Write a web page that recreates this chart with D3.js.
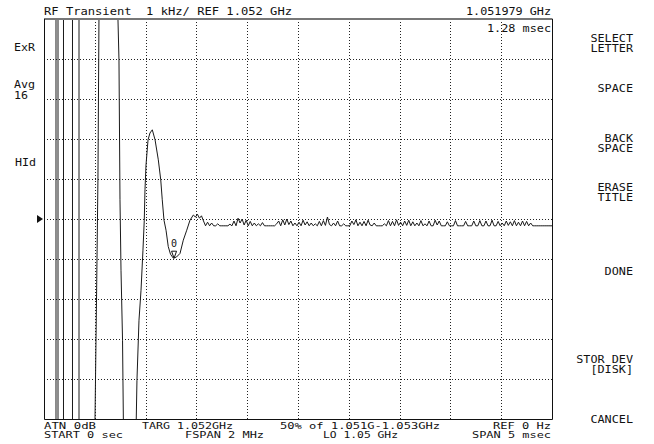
<!doctype html>
<html lang="en">
<head>
    <meta charset="utf-8" />
    <title>RF Transient</title>
    <script src="https://d3js.org/d3.v7.min.js"></script>
    <style>
        body { margin: 0; background: #fff; }
        text { font-family: "DejaVu Sans Mono", "Liberation Mono", monospace; fill: #111; white-space: pre; }
    </style>
</head>
<body>
<div id="screen"></div>
<script>
// time axis (msec) and frequency offset from REF (kHz, 1 kHz/div)
const timeSpan = [0, 5];
const freqSpan = [-5, 5];
const timeTicks = [0.5, 1, 1.5, 2, 2.5, 3, 3.5, 4, 4.5];
const freqTicks = [-4, -3, -2, -1, 0, 1, 2, 3, 4];

// start of the transient: off-scale swings, then the ring-down
const sweepTimes = [0, 0.1181, 0.1181, 0.1378, 0.1378, 0.1919, 0.1919, 0.2805, 0.2805, 0.3445, 0.3445,
    0.495, 0.502, 0.517, 0.531, 0.541, 0.548,
    0.72, 0.728, 0.738, 0.748, 0.758, 0.773, 0.781, 0.79,
    0.90, 0.908, 0.915, 0.935, 0.955, 0.974, 0.987, 0.994, 1.004, 1.024, 1.043, 1.066,
    1.093, 1.125, 1.149, 1.164, 1.181, 1.201, 1.223, 1.245, 1.273, 1.304, 1.339, 1.371, 1.405, 1.437];
const sweepFreqs = [9, 9, -9, -9, 9, 9, -9, -9, 9, 9, -9,
    -9, -5, -2.0, 1.0, 5, 9,
    9, 5, 3.98, 0.48, -1.28, -3.03, -5, -9,
    -9, -5, -4.03, -2.53, -1.78, -0.78, -0.03, 0.73, 1.35, 1.98, 2.15, 2.23,
    1.98, 1.48, 0.98, 0.48, -0.03, -0.28, -0.69, -0.88, -0.98, -0.95, -0.86, -0.53, -0.28, -0.03];

// settled part, sampled every 0.02 msec
const noiseStart = 1.47;
const noiseStep = 0.02;
const noiseFreqs = [0.1, 0.05, 0.12, 0.02, 0.08,
    -0.05, -0.17, -0.08, -0.17, -0.1,
    -0.17, -0.17, -0.12, -0.17, -0.17, -0.17, -0.17, -0.17, -0.13, -0.17,
    -0.05, -0.17, 0.02, -0.1, 0.0, -0.15, -0.03, -0.17, -0.06, -0.17,
    -0.1, -0.17, -0.12, -0.17, -0.09, -0.17, -0.17, -0.17, -0.17, -0.17, -0.17, -0.12,
    -0.05, -0.17, -0.02, -0.15, 0.0, -0.14, -0.05, -0.17, -0.1, -0.17, -0.08, -0.17, -0.03,
    -0.15, -0.07, -0.17, -0.1, -0.17, -0.12, -0.17, -0.06, -0.17, -0.04, -0.16, 0.05, -0.14,
    -0.17, -0.1, -0.17, -0.05, -0.17, -0.17, -0.12, -0.17, -0.17, -0.17, -0.05, -0.14, -0.02, -0.17, -0.08,
    -0.17, -0.06, -0.17, -0.03, -0.15, -0.17, -0.1, -0.17, -0.17, -0.17, -0.17, -0.12, -0.17, -0.04,
    -0.17, -0.06, -0.17, -0.02, -0.16, -0.08,
    -0.17, -0.05, -0.16, -0.03, -0.17, -0.07, -0.17, -0.1, -0.17, -0.04, -0.17, -0.12, -0.17,
    -0.05, -0.17, -0.17, -0.03, -0.15, -0.05, -0.17, -0.17, -0.17, -0.07, -0.17, -0.17,
    -0.17, -0.04, -0.17, -0.17, -0.17, -0.17, -0.06, -0.17, -0.17, -0.17, -0.05, -0.17, -0.17,
    -0.04, -0.17, -0.17, -0.05, -0.17, -0.17, -0.03, -0.17, -0.17, -0.06, -0.17, -0.10,
    -0.17, -0.05, -0.16, -0.07, -0.17, -0.04, -0.17, -0.08, -0.17, -0.05, -0.17, -0.06, -0.17,
    -0.1, -0.17, -0.17, -0.17, -0.17, -0.17, -0.17, -0.17, -0.17, -0.17, -0.17, -0.17, -0.17];

// marker 0
const markerTime = 1.28;
const markerFreq = -0.98;

const softkeys = [["SELECT", "LETTER"], ["SPACE"], ["BACK", "SPACE"], ["ERASE", "TITLE"], ["DONE"], [], ["STOR DEV", "[DISK]"], ["CANCEL"]];

var width = 654,
    height = 444,
    plot = { left: 44, right: 552, top: 19, bottom: 419 };

var svg = d3.select("#screen").append("svg")
    .attr("width", width)
    .attr("height", height);

var xScale = d3.scaleLinear().domain(timeSpan).range([plot.left, plot.right]);
var yScale = d3.scaleLinear().domain(freqSpan).range([plot.bottom, plot.top]);
// rounded copies so the dotted grid sits on whole pixels
var xGrid = xScale.copy().rangeRound([plot.left, plot.right]);
var yGrid = yScale.copy().rangeRound([plot.bottom, plot.top]);

// dotted graticule
svg.append("g")
    .attr("class", "grid")
    .attr("transform", `translate(0,${plot.bottom})`)
    .call(d3.axisBottom(xGrid).tickValues(timeTicks).tickSize(-(plot.bottom - plot.top)).tickFormat(""));
svg.append("g")
    .attr("class", "grid")
    .attr("transform", `translate(${plot.left},0)`)
    .call(d3.axisLeft(yGrid).tickValues(freqTicks).tickSize(-(plot.right - plot.left)).tickFormat(""));
svg.selectAll(".grid .domain").remove();
svg.selectAll(".grid line")
    .attr("stroke", "#222")
    .attr("stroke-dasharray", "1,2");

// trace
var points = sweepTimes.map((t, i) => [t, sweepFreqs[i]])
    .concat(noiseFreqs.map((f, i) => [noiseStart + i * noiseStep, f]));

svg.append("clipPath").attr("id", "clip")
    .append("rect")
    .attr("x", plot.left).attr("y", plot.top)
    .attr("width", plot.right - plot.left).attr("height", plot.bottom - plot.top);

var line = d3.line().x(d => xScale(d[0])).y(d => yScale(d[1]));
svg.append("path")
    .datum(points)
    .attr("clip-path", "url(#clip)")
    .attr("fill", "none")
    .attr("stroke", "#1a1a1a")
    .attr("stroke-width", 1)
    .attr("d", line);

// frame: grey top edge, black sides and bottom
svg.append("line")
    .attr("x1", plot.left).attr("x2", plot.right + 0.5)
    .attr("y1", plot.top).attr("y2", plot.top)
    .attr("stroke", "#777").attr("stroke-width", 2);
svg.append("path")
    .attr("d", `M${plot.left + 0.5},${plot.top}V${plot.bottom + 0.5}H${plot.right + 0.5}V${plot.top}`)
    .attr("fill", "none")
    .attr("stroke", "#111");

// marker 0
var mx = xScale(markerTime), my = yScale(markerFreq);
svg.append("path")
    .attr("d", `M${mx - 2.5},${my - 7}L${mx + 2.5},${my - 7}L${mx},${my}Z`)
    .attr("fill", "none")
    .attr("stroke", "#111");
svg.append("text")
    .attr("x", mx).attr("y", my - 11)
    .attr("text-anchor", "middle")
    .style("font-size", "10px")
    .text("0");

// reference level arrow
var ry = yScale(0);
svg.append("path")
    .attr("d", `M37,${ry - 4}L43,${ry}L37,${ry + 4}Z`)
    .attr("fill", "#111");

function label(x, y, str, size, len, anchor) {
    var t = svg.append("text")
        .attr("x", x).attr("y", y)
        .attr("text-anchor", anchor || "start")
        .style("font-size", size + "px")
        .text(str);
    if (len) t.attr("textLength", len).attr("lengthAdjust", "spacingAndGlyphs");
    return t;
}

// header
label(44, 15, "RF Transient  1 kHz/ REF 1.052 GHz", 11, 248);
label(551, 15, "1.051979 GHz", 11, 85, "end");
label(551, 32, "1.28 msec", 11, 64, "end");

// left annotations
label(14, 51, "ExR", 11, 21);
label(14, 88, "Avg", 10, 21);
label(14, 99, "16", 10, 14);
label(15, 166, "HId", 11, 21);

// footer
label(44, 429, "ATN 0dB", 8.5, 52);
label(142, 429, "TARG 1.052GHz", 8.5, 91);
label(280, 429, "50% of 1.051G-1.053GHz", 8.5, 160);
label(551, 429, "REF 0 Hz", 8.5, 58, "end");
label(44, 437.5, "START 0 sec", 8.5, 79);
label(185, 437.5, "FSPAN 2 MHz", 8.5, 79);
label(323, 437.5, "LO 1.05 GHz", 8.5, 75);
label(551, 437.5, "SPAN 5 msec", 8.5, 79, "end");

// softkey labels, one slot per key
var keyTop = [42, 92, 142, 191, 275, 324, 363, 423];
softkeys.forEach((lines, i) => {
    lines.forEach((s, j) => {
        label(633, keyTop[i] + j * 10, s, 10, s.length * 7.1, "end");
    });
});
</script>
</body>
</html>
